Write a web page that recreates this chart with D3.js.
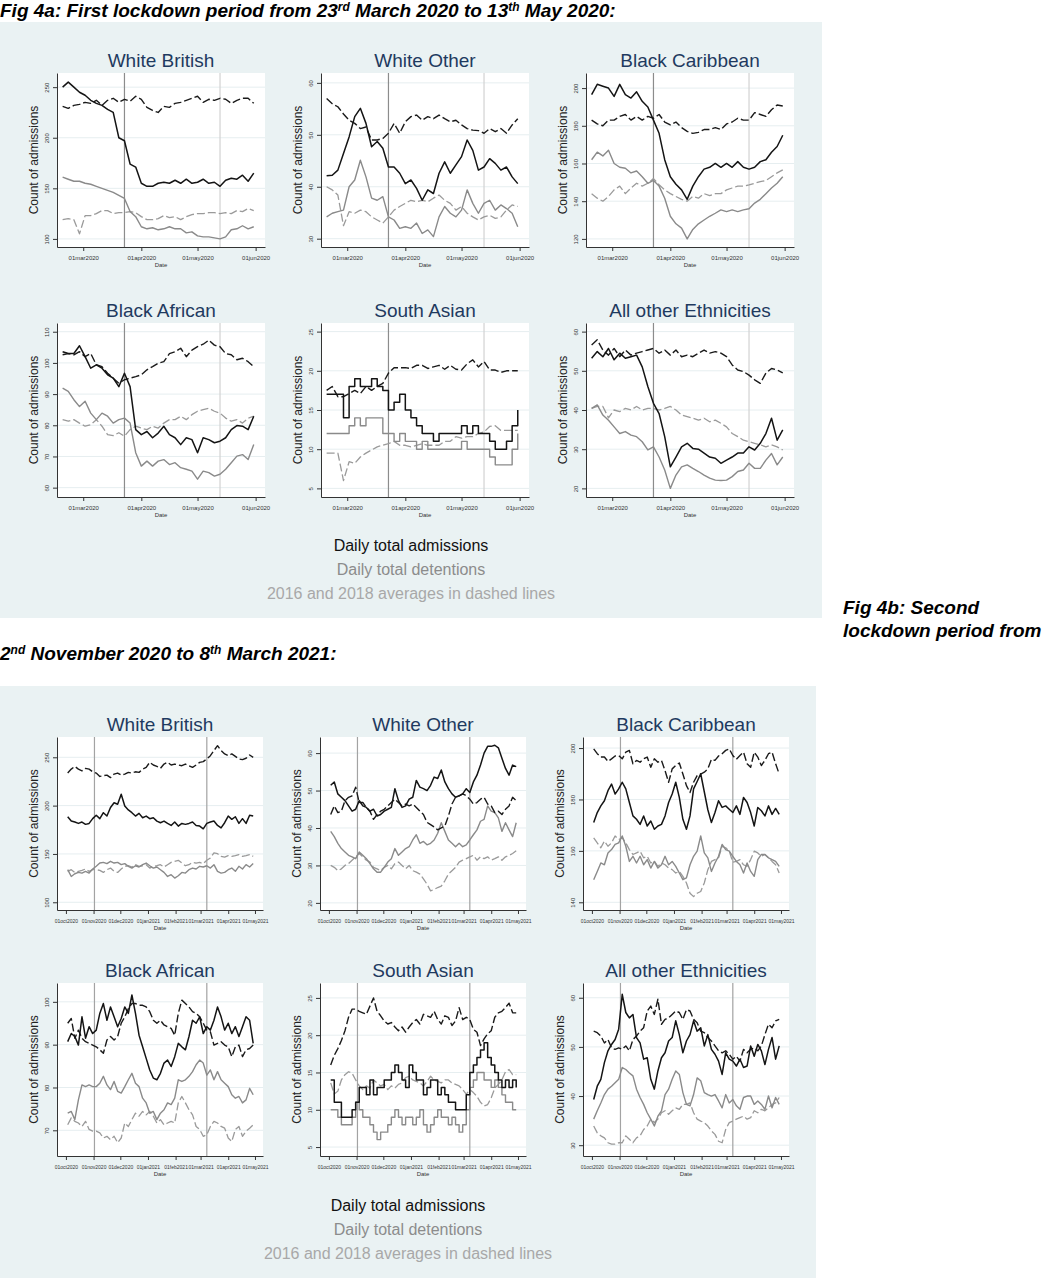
<!DOCTYPE html>
<html>
<head>
<meta charset="utf-8">
<script src="https://cdn.jsdelivr.net/npm/d3@7"></script>
<style>
body { margin: 0; background: #fff; }
svg { display: block; }
text { font-family: "Liberation Sans", Arial, sans-serif; }
</style>
</head>
<body>
<svg id="chart" width="1044" height="1280"></svg>
<script>
// Fig 4a: sampled every 3 days from 19 Feb 2020, Fig 4b: every 4 days from 3 Oct 2020
const firstDates = d3.range(35).map(i => d3.timeDay.offset(new Date(2020, 1, 19), 3 * i));
const secondDates = d3.range(53).map(i => d3.timeDay.offset(new Date(2020, 9, 3), 4 * i));

const panelNames = ["White British", "White Other", "Black Caribbean", "Black African", "South Asian", "All other Ethnicities"];

// ---- Fig 4a values ----
const wbA_adm = [250,255,250,245,242,237,234,232,228,225,200,197,174,171,155,152,152,155,156,155,158,155,159,155,156,159,155,156,152,158,160,159,163,157,165];
const wbA_avg = [231,229,232,233,235,234,237,232,237,239,235,238,236,241,238,230,227,225,231,230,234,235,237,239,241,235,238,237,239,238,234,237,239,239,234];
const wbA_det = [161,159,157,157,155,154,152,150,148,146,143,140,127,122,112,110,111,109,110,112,110,110,106,107,103,102,102,101,100,102,109,110,113,110,112];
const wbA_detavg = [119,120,119,105,123,123,125,128,128,125,126,126,127,126,122,119,119,120,123,121,122,119,122,124,125,125,126,126,125,126,125,128,127,130,128];

const woA_adm = [42.1,42.2,43.2,46.4,49.6,53.5,55.1,52.2,47.7,48.7,47.4,43.8,43.8,42.6,40.6,41.3,39.7,37.4,39.4,38.7,42.6,44.8,42.6,44.2,45.8,49,47,43.2,43.8,45.4,44.5,43.2,43.8,41.9,40.6];
const woA_avg = [57,56,55.4,54,52.8,52.2,51.2,51.5,49,49,49.3,50.3,52.2,50.3,52.5,53.5,53.8,52.8,53.5,53.1,53.8,53.1,52.5,52.8,51.9,51.2,50.9,50.8,50.3,51.2,50.6,51.2,50.3,51.9,53.1];
const woA_det = [34.2,34.9,35.2,35.5,40,41.3,45.1,41.9,37.8,37.4,38.1,34.2,33.6,32,32.3,32,33,31,31.7,30.4,34.2,36.2,34.9,34.2,35.5,39.4,36.8,34.9,36.8,37.4,35.5,36.5,35.8,34.9,32.3];
const woA_detavg = [40,39.4,38.4,32.5,35.2,34.9,35.5,35.2,34.2,33.6,33,34.2,35.5,36.2,36.8,37.4,37.1,37.4,37.1,37.8,38.4,37.4,36.8,35.5,36.2,34.9,34.2,33.6,34.2,34.5,33.9,34.2,35.5,36.5,36.2];

const bcA_adm = [196.5,202,201,200,195.6,202,196.5,194.7,198,193,190,183,176,162,153,149,146,141,148,153,157,158,160,158,160,158,161,158,157,158,161,162,166,169,175];
const bcA_avg = [183,181,180,183,183,185,186,183,185,183,185,184,186,182,180.5,182,179,177,176,176.5,178,178,179,178,181,182,184,183,183,187,186,185,188.5,191,190.5];
const bcA_det = [162,166,164,167,160,158,157.5,155,156,153,149.5,151,148,141.6,132,128,125.7,120,125,128,130,132,133.6,135.4,134.5,135.4,134.5,135.4,136,139,141,144,147,149.5,153];
const bcA_detavg = [144,141.6,140,142.5,146,148,144,147,149.5,148,149.5,152,148.7,146,144,142.5,141,140,142.5,141.6,144,143,144,144,146,147,148,148,148.7,149.5,150.4,151,153,155,156.6];

const baA_adm = [103.6,103,103,105.5,102,98.3,99.4,98.3,96.2,95.1,92.4,96.7,92.4,78.6,77,78,76,77.5,79.7,77,76,73.8,76,75.4,71.2,76,75.4,74.4,74.9,76,78.6,79.9,79.7,78.6,82.9];
const baA_avg = [102.6,103,102.6,103.6,102,103,99.4,98.8,96.7,95.1,93.5,94.6,95.1,95.6,96.2,97.8,98.8,99.9,100.4,103,103.6,104.7,102,104.1,105.2,106,107.3,105.7,105.2,103,102.6,101,101.5,100.4,98.8];
const baA_det = [91.9,90.9,88.2,86,87.7,83.9,81.8,83.9,82.9,80.7,81.8,82.3,80.7,71.2,66.9,68.5,66.9,68.5,69,67.4,68,66.4,65.9,65.3,62.7,65.3,64.8,63.7,64.3,65.9,68,70.1,70.6,69,73.8];
const baA_detavg = [81.8,81.3,81.8,80.7,79.7,80.2,81.8,79.7,77,76.7,77.6,76.5,78.6,79.7,79.1,78.6,79.7,79.1,80.7,81.8,81.8,82.9,81.8,83.4,84.5,85,85.5,84.5,83.9,82.3,81.3,81.8,80.7,82.3,82.9];

const saA_adm = [17,17,17,14,18,19,18,18,19,18,17.5,15,16,17,15,14,13,12,12,11,12,12,12,12,13,12,13,12,12,11,10,10,11,13,15];
const saA_avg = [17.5,18,16.7,16.7,17.1,17.5,17.1,18,17.5,18,18.4,19.7,20.4,20.4,20.4,20.3,20.7,20.7,20.3,20.5,20.7,20.2,20.7,20.2,20.1,20.9,21.4,20.5,21.2,20.1,20.1,19.8,20,20,20];
const saA_det = [12,12,12,12,13,14,13,14,14,14,12,12,11,12,11,11,10,11,10,10,10,10,10,10,11,10,10,10,10,9,8,8,8,10,12];
const saA_detavg = [9.5,9.5,9.5,6,8.4,8.2,9,9.5,9.9,10.3,10.5,10.7,11,10.5,10.5,10.3,10.5,10.7,10.5,10.5,10.5,11,11,11.6,11.4,11.6,11.6,12,12.2,12.9,13,12.4,12.4,12.4,12.4];

const aoA_adm = [53.2,54.9,53.6,55.7,52.8,54.5,53.2,53.6,54,51,46,41.7,39.1,33.2,25.5,28,30.6,31.5,30.2,30,29,28,27.7,26.4,27.2,28,29,29,30.6,29.8,31.5,34,37.9,32.3,34.9];
const aoA_avg = [56.6,57.9,55.3,54,55.7,53.6,55.3,54,54.5,54.9,55.3,55.7,54.5,55.3,54,55.3,53.6,54,53.6,54.5,55.3,54.5,54.9,54.5,53.6,51.5,50.2,49.8,48.9,47.7,46.8,49.4,50.6,50.2,49.5];
const aoA_det = [40.4,41.3,38.7,37.4,35.7,34,34.5,33.6,33.2,31.9,29.8,30.6,28,24.7,20,23.4,25.5,26,25.1,24.3,23.4,22.6,22.1,22,22.1,23,24.3,24.7,26.4,25.1,25.1,27.2,28.9,26,28];
const aoA_detavg = [40.4,40.9,40.9,38,40,39.6,40.4,40,40.9,40,40.4,40.4,40,40.4,40.9,40,38.7,38.3,37.9,37.4,37.9,37,37.4,36.6,35.7,34,33.2,32.3,31.9,31.5,31.1,30.6,31.1,30.6,29.8];

// ---- Fig 4b values ----
const wbB_adm = [188.5,184,183,181.6,183,180.6,181.6,186.5,190,186.5,192.7,189.2,198,203,201.4,211.8,199.7,195.5,192.7,189.2,192,187.5,189.2,186.5,187.5,184,182.3,184,181.6,179.5,183,178.8,181.6,180.6,181.6,183,179.5,178.8,176,181.6,183,184,179.5,177,182.3,189.2,185.8,188.5,181.6,186.5,181.6,190,189.2];
const wbB_avg = [233.7,237.8,240.6,237.8,236,238.5,237.8,235,233.7,230.2,231,231.6,229,232.6,233.7,231.6,232.6,234.4,233.7,235,234.4,237.8,239.6,244.8,242,240.6,238.5,243,244.8,242,243,242,241.3,243,241.3,239.6,242,244.8,245.5,248.3,251.7,257,262,257,253.5,251.7,253.5,251,248.3,247.6,249,252.4,250];
const wbB_det = [133.7,126.7,129.5,130.9,130.2,132,130.2,134.4,137.2,140.6,141.3,140,142.4,140.6,141.3,138.9,140,137.2,135.4,137.8,136.5,138.9,140.6,137.8,135.4,136.5,133.7,130.9,126.7,128.5,125,127.4,130.9,130.2,133.7,135.4,134.4,137.2,136.5,137.8,135.4,138.9,132,130.2,130.9,133.7,135.4,132,137.2,134.4,138.9,136.5,140];
const wbB_detavg = [132,133.7,130.9,132,133,134.4,132,133.7,133.7,133,130.9,133.7,135.4,132,130.9,134.4,137.2,137.8,136.5,138.9,137.2,137.8,138.9,135.4,137.2,137.8,138.9,136.5,138.9,141.3,142.4,143.4,140.6,137.8,138.9,141.3,140.6,141.3,140,143.4,145.8,151,150.3,147.5,146.8,148.3,147.5,148.3,149.3,147.5,148.3,149.3,147.5];

const woB_adm = [51.4,52.3,49.1,48.2,47.3,45.9,44.5,45,47.3,45.9,45.5,44.5,45,43.2,43.6,44.5,45,45.5,50.5,47.3,45.5,45.9,47.7,48.2,52.7,50.9,50.5,50,51.4,53.6,53.2,55.5,52.3,50.5,49.1,48.2,48.6,49.1,50.5,49.5,52.3,54.1,56.8,60,61.8,61.8,62.1,61.4,58.6,55.9,54.1,56.8,56.4];
const woB_avg = [43.6,45.9,44.1,44.5,47.3,48.2,48.6,50.9,46.8,46.8,45.5,44.5,42.3,43.6,44.5,45,45.9,46.8,47.7,46.8,45.9,46.4,45.9,46.4,45.5,44.5,43.6,41.5,40.9,40.3,39.5,40,40.5,43.2,46.4,48.2,48.6,49.1,48.6,47.7,46.4,46.8,47.7,48.2,46.4,45.9,44.1,44.5,43.6,45,45.9,48.2,47.3];
const woB_det = [39.1,37.7,35.9,34.5,33.6,32.7,32.3,31.8,33.6,32.7,31.8,30.5,29.1,28.2,28.2,29.5,30.9,31.8,34.5,32.7,33.6,34.5,35,36.8,38.2,35.9,36.4,35.5,35.9,36.8,38.6,41.4,39.1,36.8,35.9,35,35.9,35,35.5,36.8,38.2,39.5,41.8,42.3,45.9,44.5,44.1,42.7,39.1,41.4,39.5,37.7,41.4];
const woB_detavg = [30,29.5,28.6,29.1,30,30.5,31.4,32.3,33.2,32.3,31.4,30.9,29.5,29.1,28.6,29.5,30,29.1,30.5,30.9,30,29.1,30,28.6,28.2,27.7,26.4,25,23.2,23.6,24.1,24.5,25.9,27.7,28.6,29.5,30.9,31.4,31.8,32.3,32.7,31.4,32.3,31.8,32.3,31.4,31.8,32.3,31.4,32.3,32.7,33.2,33.9];

const bcB_adm = [171,174.9,177.5,179.5,183.4,186,182.1,184.1,186.7,184.1,178.8,173.6,172.3,170.3,173.6,169.7,171.6,168.4,169.7,170.3,173.6,178.8,182.1,186.7,180.8,172.3,168.4,173.6,184.1,187,190,183,176,171,174.9,179.5,176.9,177.5,176.2,174.9,177.5,174.2,180.8,178.8,174.9,169.7,176.9,175.6,173.6,177.5,174.2,176.5,174.2];
const bcB_avg = [199.7,197.8,196.5,196.5,194.8,195.8,196.9,197.1,195.8,198.4,199.1,193.9,195.2,194.5,195.8,196.5,192.5,195.8,194.5,195.2,191.2,186.7,191.9,193.2,194.2,189.9,185.4,182.7,186.7,189.3,189.9,190.6,191.9,195.6,195.2,196.9,197.8,199.1,199.7,197.1,195.6,197.1,198.4,193.9,192.5,198.4,196.5,193.2,195.2,197.8,198.4,193.9,189.9];
const bcB_det = [148.8,152,155.3,154.6,159.2,160.5,162.5,163.1,165.8,161.8,155.9,157.9,155.3,157.9,154.6,156.6,153.3,155.9,153.3,154.6,157.9,154.6,155.9,154,151.4,148.8,149.5,154.6,157.9,159.9,165.8,159.2,157.3,152,155.3,157.9,162.5,160.5,159.9,157.9,155.9,154.6,151.4,155.3,152,150.1,156.6,158.6,158.6,157.3,156.6,155.9,154];
const bcB_detavg = [165.1,163.1,161.2,163.8,161.8,163.1,165.8,164.4,165.1,163.1,160.5,158.6,159.2,159.9,157.3,157.9,155.3,155.9,154,155.3,154.6,153.3,152.7,151.4,152,150.1,147.5,143.5,142.2,143.5,144.2,147.5,152.7,155.9,156.6,157.3,161.8,161.2,159.9,155.6,155.9,156.6,154.6,154,156.6,159.9,159.2,157.9,158.6,157.3,155.9,154.6,151.4];

const baB_adm = [90.7,92.6,91.9,89.9,96.5,91.5,94.2,92.6,93.4,97.3,99.6,95.7,98.8,96.5,94.2,96.1,98.8,97.3,101.6,97.3,92.2,89.5,86.8,84.1,82.2,81.8,83.3,85.7,86.4,84.9,87.2,90.3,89.5,88.8,91.9,95.7,95,96.5,92.6,94.2,93.4,95.7,98.8,96.5,93.4,95,92.6,94.2,91.9,94.2,96.5,95.7,90.3];
const baB_avg = [95,96.1,91.5,93.4,91.5,90.7,90.3,89.9,89.5,88.8,88,91.1,91.9,91.1,91.9,95,96.5,98.4,99.6,99.6,99.2,99.2,98.8,97.7,95.7,95,95.7,94.6,94.2,93.8,92.2,97.3,100.4,99.6,98.8,97.7,97.3,96.5,95,93.4,93,89.9,90.3,90.7,89.9,89.5,87.2,89.5,89.9,87.2,88.8,89.1,89.9];
const baB_det = [74,74.4,72.5,77.1,80.6,80.2,80.6,80.2,80.2,81,82.6,80.6,79.5,81.4,79.1,78.7,80.2,81.8,83.3,81,80.2,77.5,76.4,74,74.4,72.5,74,74.8,76.4,76,77.5,81.8,81.4,81.8,82.6,83.7,85.3,86.4,85.7,82.9,84.1,81.8,83.7,81.8,81,80.2,78.3,77.5,77.9,76.4,77.1,79.8,78.3];
const baB_detavg = [71.3,72.9,72.1,71.7,70.9,72.1,70.2,69.8,69.8,69.4,68.2,68.6,67.8,68.6,67.1,68.2,71.7,70.9,72.5,74,73.3,74.4,73.6,74.4,73.3,71.7,72.5,71.3,71.7,72.1,71.7,76.4,77.9,76.4,74.8,73.6,70.9,70.2,68.6,69,70.9,72.1,71.7,70.9,70.5,68.2,67.4,70.2,70.9,68.6,69.8,70.5,71.3];

const saB_adm = [14,11,11,9,9,9,10,11,13,13,12,14,12,13,13,14,14,15,16,15,14,13,16,15,14,14,12,13,14,14,12,13,12,11,11,10,10,10,12,15,16,17,18,19,17,16,15,14,13,14,13,14,13];
const saB_avg = [16,17.3,18.2,19.3,20.6,22.4,23.5,23.5,23.2,23,22.8,23.9,25,23.2,22.6,21.9,21.5,21.7,21.1,20.6,21.1,20.4,21.1,21.7,22.1,21.5,22.8,22.6,22.4,23.2,22.1,21.5,22.6,22.4,21.3,21.9,23.7,22.1,22.4,22.1,20.8,20.4,18.6,19.5,20.2,20.6,22.4,23,23.2,23.7,24.3,23,23];
const saB_det = [10,10,9,8,8,8,9,11,10,9,9,8,7,6,7,7,8,9,10,9,8,9,9,8,9,10,8,7,8,9,10,9,9,8,9,8,7,8,10,13,14,15,15,14,14,13,14,13,12,11,11,10,10];
const saB_detavg = [13.6,12.1,12.5,14,14.7,15.1,14.9,14,13.2,12.7,13.2,12.9,14,13.6,13.2,13.4,12.7,13.2,12.9,13.4,13.6,14.3,14.5,14,13.8,13.6,13.2,13.8,14.5,14,13.8,13.6,14,14,13.6,13.4,13.2,12.7,12.1,12.7,12.3,11.8,11,10.5,10.7,11.6,12.9,13.4,14,15.1,15.4,14.7,14.7];

const aoB_adm = [39.3,42,43.4,46.8,49.2,50.5,51.5,53.6,60.7,57,55.9,56.6,51.9,50.8,47.5,47.8,43.4,41.4,45.1,47.8,48.8,51.2,51.9,55.3,52.5,48.8,51.2,52.5,55.3,53.2,53.9,50.2,52.5,49.5,48.5,47.1,44.4,48.8,47.5,47.1,46.1,47.5,45.8,46.1,50.2,48.1,50.5,49.2,46.4,49.5,51.9,47.5,50.2];
const aoB_avg = [53.2,52.9,52.2,50.8,51.5,49.8,49.5,49.8,49.5,50.2,49.2,51.5,52.2,53.2,53.9,57.3,58.3,56.6,59.7,54.6,55.6,55.9,56.6,57.3,57,55.6,57.6,57.3,55.6,54.9,53.2,52.9,51.9,51.2,50.2,49.2,48.8,49.2,48.5,47.5,48.1,47.1,49.5,48.8,49.5,49.8,49.2,50.2,52.5,54.6,53.9,55.3,55.6];
const aoB_det = [35.3,37,38.6,40.3,41.4,42,42.7,43.4,45.8,45.4,44.7,44.1,41.4,39.7,38.3,36.6,35.3,33.9,35.9,37,40.3,41.4,43.4,45.1,44.4,40.7,38.3,38,40.3,43.7,43.1,40.7,40.3,40,40.3,39,37.6,40.3,38.6,39.3,38,37.3,39.7,40,40,38.3,39,38.3,37.3,40,37.6,39.7,38.3];
const aoB_detavg = [33.9,32.5,31.9,31.5,30.5,30.2,30.2,30.5,30.5,31.9,31.2,30.5,31.5,31.9,33.2,33.9,35.3,34.6,35.3,36.6,37,36.3,37,37.6,37.3,38.3,38.3,38.6,36.6,35.3,34.9,34.6,33.9,32.9,32.2,30.8,30.5,33.2,34.6,34.9,35.3,35.6,35.9,35.3,35.6,37,36.6,37.3,37,37.6,38.3,38.6,39.7];

// y-axis ticks per panel
const yTicksA = [[100,150,200,250],[30,40,50,60],[120,140,160,180,200],[60,70,80,90,100,110],[5,10,15,20,25],[20,30,40,50,60]];
const yTicksB = [[100,150,200,250],[20,30,40,50,60],[140,160,180,200],[70,80,90,100],[5,10,15,20,25],[30,40,50,60]];
const yDomA = [[92,264],[28.4,61.9],[115.7,208],[57,112.8],[3.9,26.1],[17.8,62.2]];
const yDomB = [[92,271],[18.1,64.3],[137,204.3],[64,104.4],[3.8,27],[27.8,63]];

const seriesA = [
  [wbA_adm, wbA_avg, wbA_det, wbA_detavg],
  [woA_adm, woA_avg, woA_det, woA_detavg],
  [bcA_adm, bcA_avg, bcA_det, bcA_detavg],
  [baA_adm, baA_avg, baA_det, baA_detavg],
  [saA_adm, saA_avg, saA_det, saA_detavg],
  [aoA_adm, aoA_avg, aoA_det, aoA_detavg]
];
const seriesB = [
  [wbB_adm, wbB_avg, wbB_det, wbB_detavg],
  [woB_adm, woB_avg, woB_det, woB_detavg],
  [bcB_adm, bcB_avg, bcB_det, bcB_detavg],
  [baB_adm, baB_avg, baB_det, baB_detavg],
  [saB_adm, saB_avg, saB_det, saB_detavg],
  [aoB_adm, aoB_avg, aoB_det, aoB_detavg]
];

const legendLines = ["Daily total admissions", "Daily total detentions", "2016 and 2018 averages in dashed lines"];

const figA = {
  box: [0, 22, 822, 596], cols: [57, 321, 586], rows: [73, 323], w: 208, h: 174,
  dates: firstDates, series: seriesA, yTicks: yTicksA, yDom: yDomA, tickFont: 6,
  xDomain: [new Date(2020, 1, 16), new Date(2020, 5, 6)],
  xTicks: [new Date(2020, 2, 1), new Date(2020, 3, 1), new Date(2020, 4, 1), new Date(2020, 5, 1)],
  vlines: [[new Date(2020, 2, 23), "#8c8c8c"], [new Date(2020, 4, 13), "#d2d2d2"]],
  legendX: 411, legendY: [551, 575, 599]
};
const figB = {
  box: [0, 686, 816, 592], cols: [57, 320, 583], rows: [737, 983], w: 206, h: 173,
  dates: secondDates, series: seriesB, yTicks: yTicksB, yDom: yDomB, tickFont: 5,
  xDomain: [new Date(2020, 8, 21), new Date(2021, 4, 10)],
  xTicks: d3.timeMonth.range(new Date(2020, 9, 1), new Date(2021, 4, 2)),
  vlines: [[new Date(2020, 10, 2), "#a3a3a3"], [new Date(2021, 2, 8), "#a3a3a3"]],
  legendX: 408, legendY: [1211, 1235, 1259]
};

const svg = d3.select("#chart");
const fmt = d => d3.timeFormat("%d%b%Y")(d).toLowerCase();

function drawPanel(fig, k) {
  const x0 = fig.cols[k % 3], y0 = fig.rows[Math.floor(k / 3)];
  const w = fig.w, h = fig.h;
  const x = d3.scaleTime().domain(fig.xDomain).range([x0, x0 + w]);
  const y = d3.scaleLinear().domain(fig.yDom[k]).range([y0 + h, y0]);
  const g = svg.append("g");

  g.append("rect").attr("x", x0).attr("y", y0).attr("width", w).attr("height", h).attr("fill", "#fff");

  g.append("g").selectAll("line").data(fig.yTicks[k]).join("line")
    .attr("x1", x0).attr("x2", x0 + w)
    .attr("y1", d => y(d)).attr("y2", d => y(d))
    .attr("stroke", "#e6eef0").attr("stroke-width", 1);

  g.append("g").selectAll("line").data(fig.vlines).join("line")
    .attr("x1", d => x(d[0])).attr("x2", d => x(d[0]))
    .attr("y1", y0).attr("y2", y0 + h)
    .attr("stroke", d => d[1]).attr("stroke-width", 1.2);

  const [adm, avg, det, detavg] = fig.series[k];
  const stepped = panelNames[k] === "South Asian";
  const mk = curve => d3.line().x((d, i) => x(fig.dates[i])).y(d => y(d)).curve(curve);
  const smooth = mk(d3.curveLinear), step = mk(d3.curveStepAfter);

  const lines = [
    [detavg, "#9a9a9a", "8,3", smooth, 1.3],
    [det, "#8a8a8a", null, stepped ? step : smooth, 1.4],
    [avg, "#1a1a1a", "8,3", smooth, 1.4],
    [adm, "#141414", null, stepped ? step : smooth, 1.5]
  ];
  g.append("g").selectAll("path").data(lines).join("path")
    .attr("d", d => d[3](d[0]))
    .attr("fill", "none")
    .attr("stroke", d => d[1])
    .attr("stroke-width", d => d[4])
    .attr("stroke-dasharray", d => d[2])
    .attr("stroke-linejoin", "round");

  // y axis
  const ya = g.append("g").attr("transform", `translate(${x0},0)`)
    .call(d3.axisLeft(y).tickValues(fig.yTicks[k]).tickSize(4).tickSizeOuter(0));
  ya.select(".domain").attr("stroke", "#333");
  ya.selectAll(".tick line").attr("stroke", "#333");
  ya.selectAll(".tick text")
    .attr("x", null).attr("dy", null)
    .attr("transform", "translate(-8,0) rotate(-90)")
    .attr("text-anchor", "middle")
    .attr("font-size", 6).attr("fill", "#333")
    .style("font-family", "'Liberation Sans', Arial, sans-serif");

  // x axis
  const xa = g.append("g").attr("transform", `translate(0,${y0 + h})`)
    .call(d3.axisBottom(x).tickValues(fig.xTicks).tickFormat(fmt).tickSize(4).tickSizeOuter(0));
  xa.select(".domain").attr("stroke", "#333");
  xa.selectAll(".tick line").attr("stroke", "#333");
  xa.selectAll(".tick text")
    .attr("y", 9).attr("font-size", fig.tickFont).attr("fill", "#333")
    .style("font-family", "'Liberation Sans', Arial, sans-serif");

  g.append("text").attr("x", x0 + w / 2).attr("y", y0 + h + 20)
    .attr("text-anchor", "middle").attr("font-size", 6).attr("fill", "#333").text("Date");

  g.append("text")
    .attr("transform", `translate(${x0 - 19},${y0 + h / 2}) rotate(-90)`)
    .attr("text-anchor", "middle").attr("font-size", 12).attr("fill", "#222")
    .text("Count of admissions");

  g.append("text").attr("x", x0 + w / 2).attr("y", y0 - 6)
    .attr("text-anchor", "middle").attr("font-size", 19).attr("fill", "#1f3a5f")
    .text(panelNames[k]);
}

function drawFigure(fig) {
  svg.append("rect").attr("x", fig.box[0]).attr("y", fig.box[1])
    .attr("width", fig.box[2]).attr("height", fig.box[3]).attr("fill", "#eaf2f3");
  d3.range(6).forEach(k => drawPanel(fig, k));
  svg.append("g").selectAll("text").data(legendLines).join("text")
    .attr("x", fig.legendX).attr("y", (d, i) => fig.legendY[i])
    .attr("text-anchor", "middle").attr("font-size", 16)
    .attr("fill", (d, i) => ["#111", "#8c8c8c", "#a8a8a8"][i])
    .text(d => d);
}

drawFigure(figA);
drawFigure(figB);

// headings
function heading(x, y, parts) {
  const t = svg.append("text").attr("x", x).attr("y", y)
    .attr("font-size", 19).attr("font-weight", "bold").attr("font-style", "italic").attr("fill", "#000");
  parts.forEach(p => {
    if (p.sup) t.append("tspan").attr("dy", -6).attr("font-size", 12).text(p.sup);
    else t.append("tspan").attr("dy", p.back ? 6 : 0).text(p.t);
  });
}
heading(0, 17, [{t: "Fig 4a: First lockdown period from 23"}, {sup: "rd"}, {t: " March 2020 to 13", back: true}, {sup: "th"}, {t: " May 2020:", back: true}]);
heading(843, 614, [{t: "Fig 4b: Second"}]);
heading(843, 637, [{t: "lockdown period from"}]);
heading(0, 660, [{t: "2"}, {sup: "nd"}, {t: " November 2020 to 8", back: true}, {sup: "th"}, {t: " March 2021:", back: true}]);
</script>
</body>
</html>
